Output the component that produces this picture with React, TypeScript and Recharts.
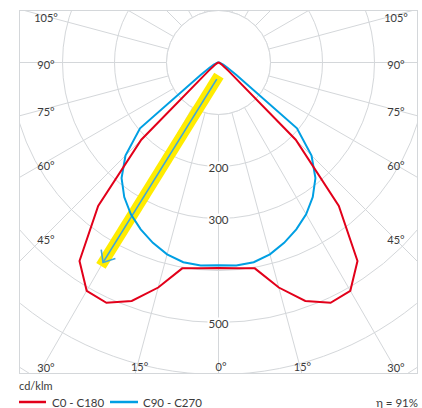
import React from 'react';
import {
  RadarChart,
  Radar,
  PolarGrid,
  PolarAngleAxis,
  PolarRadiusAxis,
  Customized,
} from 'recharts';

// Gamma angles (degrees from nadir) at which the intensities are tabulated
const gammaAngles = [0, 5, 10, 15, 20, 25, 30, 35, 40, 45, 50, 55, 60, 65, 70, 75, 80, 85, 90];

// Luminous intensity, cd/klm
const c0 = [395, 397, 402, 448, 488, 510, 507, 466, 360, 210, 25, 10, 5, 2, 1, 0, 0, 0, 0];
const c180 = [395, 397, 402, 448, 488, 510, 507, 466, 360, 210, 25, 10, 5, 2, 1, 0, 0, 0, 0];
const c90 = [390, 392, 390, 382, 369, 354, 337, 316, 290, 253, 197, 42, 20, 10, 5, 2, 1, 0, 0];
const c270 = [390, 392, 390, 382, 369, 354, 337, 316, 290, 253, 197, 42, 20, 10, 5, 2, 1, 0, 0];

// Grid and labels
const radiusTicks = [100, 200, 300, 400, 500, 600, 700];
const radiusLabels = [200, 300, 500];
const gridGammas = [0, 15, 30, 45, 60, 75, 90, 105, 120, 135, 150, 165, 180];
const angleLabels = [105, 90, 75, 60, 45, 30, 15, 0];

// Direction of maximum intensity (annotation arrow), gamma/value pairs
const arrowFrom = { gamma: 6, value: 32 };
const arrowTo = { gamma: 30, value: 444 };

const seriesNames = ['C0 - C180', 'C90 - C270'];
const efficiency = 'η = 91%';
const unitLabel = 'cd/klm';

const RED = '#e2001a';
const BLUE = '#009fe3';
const GRID = '#d4d7da';
const TEXT = '#3a3a3a';
const FONT = 'Lato, "Noto Sans", sans-serif';

// Layout
const CHART_W = 399;
const CHART_H = 364;
const CX = 199.5;
const CY = 52.5;
const R_MAX = 700;
const OUTER = 364;
const K = OUTER / R_MAX;
const INNER_GRID = radiusTicks[0] * K;

// Table for the radar: theta 0..90 is the right half, 270..355 the left half
const table: { theta: number; red: number; blue: number }[] = [];
gammaAngles.forEach((g, i) => table.push({ theta: g, red: c0[i], blue: c90[i] }));
for (let i = gammaAngles.length - 1; i >= 1; i--) {
  table.push({ theta: 360 - gammaAngles[i], red: c180[i], blue: c270[i] });
}

// Gamma -> recharts polar angle (right side)
const toChartAngle = (theta: number) => theta - 90;
const gridAnglesDeg: number[] = [];
gridGammas.forEach((g) => {
  gridAnglesDeg.push(toChartAngle(g));
  if (g !== 0 && g !== 180) gridAnglesDeg.push(toChartAngle(360 - g));
});

const toXY = (gamma: number, value: number, side: number) => {
  const a = (gamma * Math.PI) / 180;
  return { x: CX + side * value * K * Math.sin(a), y: CY + value * K * Math.cos(a) };
};

// Keeps the area inside the first ring free of radial lines
const InnerRing = () => (
  <circle cx={CX} cy={CY} r={INNER_GRID} fill="#fff" stroke={GRID} strokeWidth={1} />
);

const Overlay = () => {
  const labelDX = 175;
  const labelDY = 304;
  const angleTexts: React.ReactNode[] = [];
  angleLabels.forEach((g) => {
    const sides = g === 0 ? [1] : [-1, 1];
    sides.forEach((side) => {
      const a = (g * Math.PI) / 180;
      const s = Math.sin(a);
      const c = Math.cos(a);
      const tSide = s > 1e-6 ? labelDX / s : Infinity;
      const tBottom = c > 1e-6 ? labelDY / c : Infinity;
      const t = Math.min(tSide, tBottom);
      const onBottom = tBottom <= tSide;
      const x = CX + side * t * s + 2.5;
      const y = CY + t * c + (onBottom ? 0 : 2);
      angleTexts.push(
        <text
          key={`a${g}${side}`}
          x={x}
          y={y}
          textAnchor="middle"
          dominantBaseline="central"
          fontSize={11}
          fontFamily={FONT}
          fill={TEXT}
        >
          {`${g}°`}
        </text>
      );
    });
  });

  const p0 = toXY(arrowFrom.gamma, arrowFrom.value, -1);
  const p1 = toXY(arrowTo.gamma, arrowTo.value, -1);
  const dx = p1.x - p0.x;
  const dy = p1.y - p0.y;
  const len = Math.hypot(dx, dy);
  const ux = dx / len;
  const uy = dy / len;
  const ext = 4;
  const head = 13;
  const spread = (40 * Math.PI) / 180;
  const rot = (vx: number, vy: number, ang: number) => ({
    x: vx * Math.cos(ang) - vy * Math.sin(ang),
    y: vx * Math.sin(ang) + vy * Math.cos(ang),
  });
  const h1 = rot(-ux, -uy, spread);
  const h2 = rot(-ux, -uy, -spread);

  return (
    <g>
      <line
        x1={p0.x - ux * ext}
        y1={p0.y - uy * ext}
        x2={p1.x + ux * ext}
        y2={p1.y + uy * ext}
        stroke="#ffec00"
        strokeWidth={11}
      />
      <line x1={p0.x} y1={p0.y} x2={p1.x} y2={p1.y} stroke="#3ea6dd" strokeWidth={1.6} />
      <polyline
        points={`${p1.x + h1.x * head},${p1.y + h1.y * head} ${p1.x},${p1.y} ${p1.x + h2.x * head},${p1.y + h2.y * head}`}
        fill="none"
        stroke="#3ea6dd"
        strokeWidth={1.6}
      />
      {radiusLabels.map((v) => {
        const y = CY + v * K;
        return (
          <g key={`r${v}`}>
            <rect x={CX - 11} y={y - 5} width={22} height={10} fill="#fff" />
            <text
              x={CX}
              y={y + 1}
              textAnchor="middle"
              dominantBaseline="central"
              fontSize={11.5}
              fontFamily={FONT}
              fill={TEXT}
            >
              {v}
            </text>
          </g>
        );
      })}
      {angleTexts}
      <rect x={0.5} y={0.5} width={CHART_W - 1} height={CHART_H - 1} fill="none" stroke={GRID} />
    </g>
  );
};

export default function App() {
  return (
    <div
      style={{
        position: 'absolute',
        left: 0,
        top: 0,
        width: 422,
        height: 408,
        background: '#fff',
        fontFamily: FONT,
      }}
    >
      <div
        style={{
          position: 'absolute',
          left: 19,
          top: 10,
          width: CHART_W,
          height: CHART_H,
          overflow: 'hidden',
        }}
      >
        <RadarChart
          width={CHART_W}
          height={CHART_H}
          data={table}
          cx={CX}
          cy={CY}
          outerRadius={OUTER}
          startAngle={-90}
          endAngle={270}
          margin={{ top: 0, right: 0, bottom: 0, left: 0 }}
        >
          <PolarGrid
            gridType="circle"
            polarAngles={gridAnglesDeg}
            polarRadius={radiusTicks.map((v) => v * K)}
            innerRadius={INNER_GRID}
            outerRadius={420}
            stroke={GRID}
            strokeWidth={1}
          />
          <Customized component={<InnerRing />} />
          <PolarAngleAxis dataKey="theta" type="number" domain={[0, 360]} tick={false} axisLine={false} />
          <PolarRadiusAxis type="number" domain={[0, R_MAX]} tick={false} axisLine={false} />
          <Radar
            dataKey="blue"
            stroke={BLUE}
            strokeWidth={2}
            fill="none"
            fillOpacity={0}
            dot={false}
            isAnimationActive={false}
          />
          <Radar
            dataKey="red"
            stroke={RED}
            strokeWidth={2}
            fill="none"
            fillOpacity={0}
            dot={false}
            isAnimationActive={false}
          />
          <Customized component={<Overlay />} />
        </RadarChart>
      </div>
      <svg
        width={422}
        height={408}
        style={{ position: 'absolute', left: 0, top: 0, pointerEvents: 'none' }}
      >
        <text x={19} y={385} dominantBaseline="central" fontSize={11} fontFamily={FONT} fill={TEXT}>
          {unitLabel}
        </text>
        <line x1={19} y1={402} x2={46} y2={402} stroke={RED} strokeWidth={2.5} />
        <text x={52} y={402.5} dominantBaseline="central" fontSize={11.5} fontFamily={FONT} fill={TEXT}>
          {seriesNames[0]}
        </text>
        <line x1={110} y1={402} x2={138} y2={402} stroke={BLUE} strokeWidth={2.5} />
        <text x={143} y={402.5} dominantBaseline="central" fontSize={11.5} fontFamily={FONT} fill={TEXT}>
          {seriesNames[1]}
        </text>
        <text
          x={418}
          y={402.5}
          textAnchor="end"
          dominantBaseline="central"
          fontSize={11.5}
          fontFamily={FONT}
          fill={TEXT}
        >
          {efficiency}
        </text>
      </svg>
    </div>
  );
}
